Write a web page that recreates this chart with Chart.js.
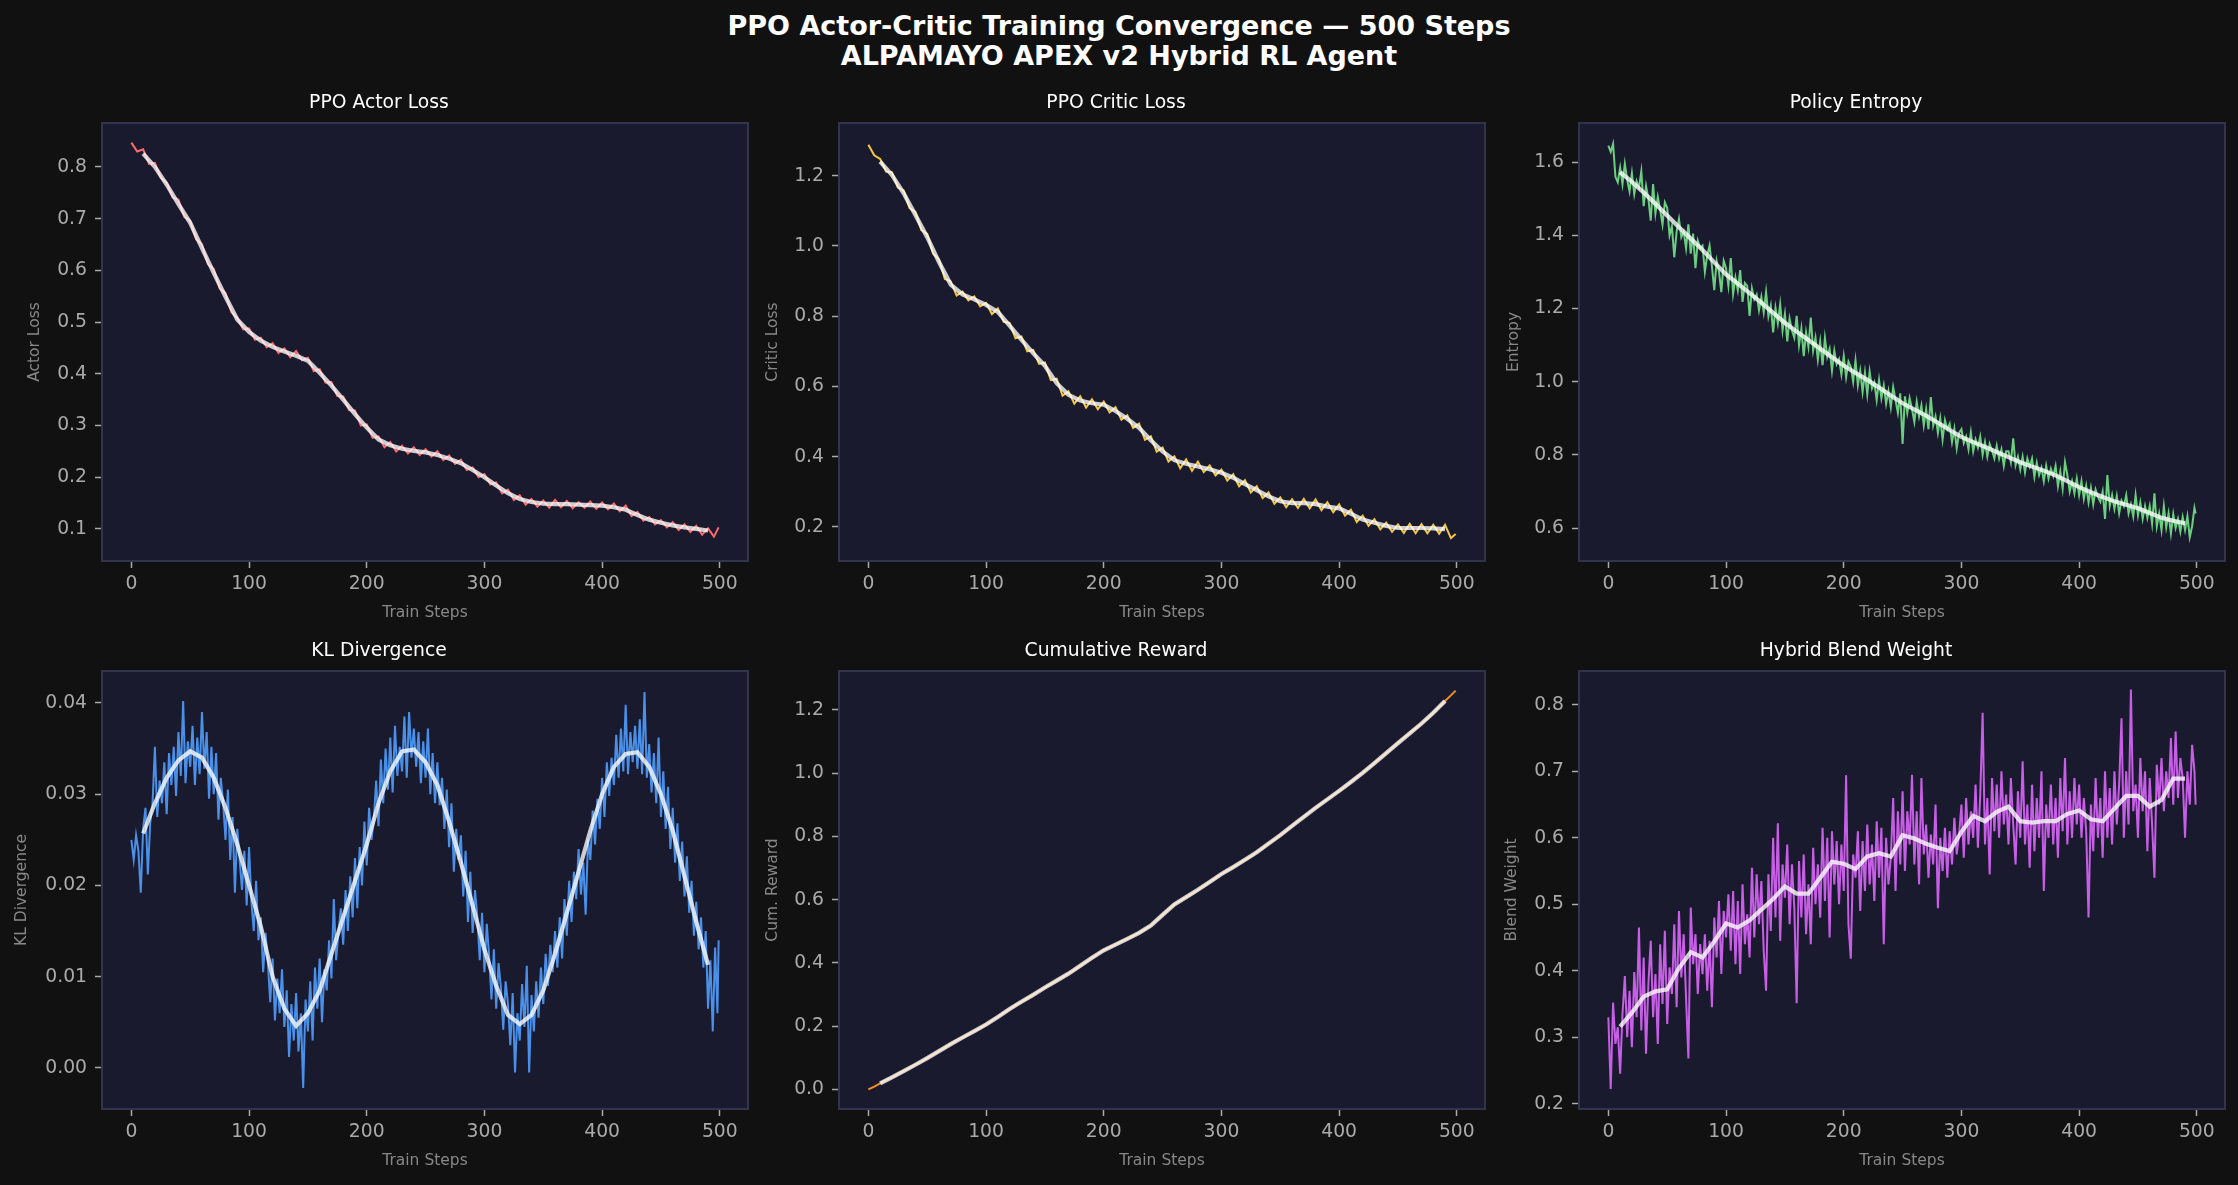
<!DOCTYPE html>
<html>
<head>
<meta charset="utf-8">
<script src="https://cdn.jsdelivr.net/npm/chart.js@4.4.1/dist/chart.umd.min.js"></script>
<style>
  html, body { margin: 0; padding: 0; background: #111111; width: 2238px; height: 1185px; overflow: hidden; }
  #suptitle {
    position: absolute; left: 0; top: 11px; width: 2238px; text-align: center;
    color: #ffffff; font-family: "DejaVu Sans", sans-serif; font-weight: bold;
    font-size: 27px; line-height: 30px;
  }
  canvas { position: absolute; }
</style>
</head>
<body>
<div id="suptitle">PPO Actor-Critic Training Convergence — 500 Steps<br>ALPAMAYO APEX v2 Hybrid RL Agent</div>
<canvas id="p0"></canvas>
<canvas id="p1"></canvas>
<canvas id="p2"></canvas>
<canvas id="p3"></canvas>
<canvas id="p4"></canvas>
<canvas id="p5"></canvas>
<script>
// ---- data ----
// coarse step grid for the low-noise series
const steps = [
  0, 5, 10, 15, 20, 25, 30, 35, 40, 45,
  50, 55, 60, 65, 70, 75, 80, 85, 90, 95,
  100, 105, 110, 115, 120, 125, 130, 135, 140, 145,
  150, 155, 160, 165, 170, 175, 180, 185, 190, 195,
  200, 205, 210, 215, 220, 225, 230, 235, 240, 245,
  250, 255, 260, 265, 270, 275, 280, 285, 290, 295,
  300, 305, 310, 315, 320, 325, 330, 335, 340, 345,
  350, 355, 360, 365, 370, 375, 380, 385, 390, 395,
  400, 405, 410, 415, 420, 425, 430, 435, 440, 445,
  450, 455, 460, 465, 470, 475, 480, 485, 490, 495,
  499,
];
// finer step grid for the noisy series
const stepsFine = [
  0, 2, 4, 6, 8, 10, 12, 14, 16, 18, 20, 22, 24, 26, 28, 30, 32, 34, 36, 38,
  40, 42, 44, 46, 48, 50, 52, 54, 56, 58, 60, 62, 64, 66, 68, 70, 72, 74, 76, 78,
  80, 82, 84, 86, 88, 90, 92, 94, 96, 98, 100, 102, 104, 106, 108, 110, 112, 114, 116, 118,
  120, 122, 124, 126, 128, 130, 132, 134, 136, 138, 140, 142, 144, 146, 148, 150, 152, 154, 156, 158,
  160, 162, 164, 166, 168, 170, 172, 174, 176, 178, 180, 182, 184, 186, 188, 190, 192, 194, 196, 198,
  200, 202, 204, 206, 208, 210, 212, 214, 216, 218, 220, 222, 224, 226, 228, 230, 232, 234, 236, 238,
  240, 242, 244, 246, 248, 250, 252, 254, 256, 258, 260, 262, 264, 266, 268, 270, 272, 274, 276, 278,
  280, 282, 284, 286, 288, 290, 292, 294, 296, 298, 300, 302, 304, 306, 308, 310, 312, 314, 316, 318,
  320, 322, 324, 326, 328, 330, 332, 334, 336, 338, 340, 342, 344, 346, 348, 350, 352, 354, 356, 358,
  360, 362, 364, 366, 368, 370, 372, 374, 376, 378, 380, 382, 384, 386, 388, 390, 392, 394, 396, 398,
  400, 402, 404, 406, 408, 410, 412, 414, 416, 418, 420, 422, 424, 426, 428, 430, 432, 434, 436, 438,
  440, 442, 444, 446, 448, 450, 452, 454, 456, 458, 460, 462, 464, 466, 468, 470, 472, 474, 476, 478,
  480, 482, 484, 486, 488, 490, 492, 494, 496, 498, 499,
];
const smoothSteps = [
  10, 20, 30, 40, 50, 60, 70, 80, 90, 100,
  110, 120, 130, 140, 150, 160, 170, 180, 190, 200,
  210, 220, 230, 240, 250, 260, 270, 280, 290, 300,
  310, 320, 330, 340, 350, 360, 370, 380, 390, 400,
  410, 420, 430, 440, 450, 460, 470, 480, 490,
];

const actorRaw = [
  0.847, 0.830, 0.834, 0.806, 0.808, 0.779, 0.770, 0.741, 0.737, 0.703,
  0.696, 0.660, 0.651, 0.612, 0.603, 0.565, 0.556, 0.519, 0.508, 0.486,
  0.488, 0.466, 0.470, 0.451, 0.459, 0.440, 0.449, 0.432, 0.444, 0.426,
  0.431, 0.405, 0.409, 0.383, 0.384, 0.357, 0.356, 0.330, 0.329, 0.300,
  0.302, 0.276, 0.279, 0.258, 0.268, 0.250, 0.261, 0.246, 0.258, 0.243,
  0.254, 0.240, 0.250, 0.233, 0.242, 0.226, 0.234, 0.214, 0.219, 0.200,
  0.206, 0.186, 0.190, 0.169, 0.176, 0.156, 0.165, 0.147, 0.158, 0.143,
  0.155, 0.141, 0.156, 0.142, 0.154, 0.140, 0.152, 0.141, 0.153, 0.139,
  0.151, 0.138, 0.149, 0.134, 0.145, 0.125, 0.133, 0.116, 0.123, 0.109,
  0.117, 0.103, 0.113, 0.098, 0.109, 0.094, 0.106, 0.089, 0.101, 0.085,
  0.103,
];
const actorSmooth = [
  0.826, 0.800, 0.766, 0.728, 0.692, 0.643, 0.595, 0.549, 0.505, 0.481,
  0.464, 0.452, 0.443, 0.435, 0.425, 0.402, 0.377, 0.350, 0.322, 0.296,
  0.273, 0.262, 0.255, 0.251, 0.248, 0.243, 0.236, 0.227, 0.214, 0.200,
  0.184, 0.169, 0.158, 0.152, 0.149, 0.148, 0.148, 0.147, 0.146, 0.145,
  0.142, 0.137, 0.127, 0.118, 0.112, 0.107, 0.103, 0.100, 0.097,
];

const criticRaw = [
  1.288, 1.258, 1.248, 1.212, 1.210, 1.166, 1.158, 1.108, 1.097, 1.045,
  1.034, 0.978, 0.962, 0.906, 0.899, 0.859, 0.870, 0.845, 0.856, 0.828,
  0.838, 0.806, 0.822, 0.784, 0.781, 0.737, 0.742, 0.700, 0.704, 0.664,
  0.668, 0.618, 0.622, 0.574, 0.586, 0.551, 0.572, 0.540, 0.563, 0.535,
  0.557, 0.526, 0.541, 0.505, 0.518, 0.482, 0.494, 0.448, 0.458, 0.414,
  0.426, 0.386, 0.401, 0.367, 0.392, 0.360, 0.386, 0.356, 0.375, 0.347,
  0.363, 0.332, 0.350, 0.316, 0.333, 0.298, 0.316, 0.282, 0.298, 0.266,
  0.284, 0.256, 0.279, 0.254, 0.280, 0.253, 0.278, 0.248, 0.270, 0.242,
  0.264, 0.232, 0.249, 0.214, 0.232, 0.203, 0.222, 0.193, 0.212, 0.186,
  0.207, 0.183, 0.209, 0.182, 0.208, 0.182, 0.206, 0.181, 0.206, 0.168,
  0.180,
];
const criticSmooth = [
  1.240, 1.202, 1.150, 1.088, 1.025, 0.954, 0.890, 0.862, 0.848, 0.832,
  0.812, 0.773, 0.733, 0.695, 0.659, 0.609, 0.576, 0.560, 0.552, 0.548,
  0.530, 0.508, 0.482, 0.447, 0.415, 0.390, 0.380, 0.372, 0.364, 0.354,
  0.340, 0.322, 0.305, 0.287, 0.273, 0.268, 0.268, 0.265, 0.258, 0.253,
  0.238, 0.221, 0.212, 0.203, 0.197, 0.197, 0.197, 0.196, 0.194,
];

const entropyRaw = [
  1.645, 1.628, 1.650, 1.560, 1.545, 1.585, 1.540, 1.596, 1.552, 1.520,
  1.570, 1.512, 1.548, 1.530, 1.575, 1.480, 1.535, 1.500, 1.440, 1.540,
  1.460, 1.505, 1.470, 1.430, 1.490, 1.475, 1.400, 1.425, 1.340, 1.410,
  1.445, 1.395, 1.410, 1.365, 1.430, 1.350, 1.405, 1.310, 1.385, 1.365,
  1.372, 1.300, 1.345, 1.372, 1.315, 1.250, 1.330, 1.300, 1.245, 1.330,
  1.310, 1.262, 1.338, 1.240, 1.285, 1.250, 1.305, 1.218, 1.270, 1.262,
  1.180, 1.255, 1.225, 1.238, 1.195, 1.232, 1.190, 1.245, 1.178, 1.208,
  1.135, 1.202, 1.160, 1.212, 1.140, 1.185, 1.110, 1.172, 1.140, 1.120,
  1.180, 1.100, 1.145, 1.070, 1.135, 1.095, 1.175, 1.085, 1.120, 1.060,
  1.110, 1.045, 1.120, 1.068, 1.090, 1.030, 1.085, 1.048, 1.062, 1.020,
  1.070, 1.012, 1.055, 1.040, 1.000, 1.058, 0.990, 1.030, 0.972, 1.025,
  0.965, 1.028, 0.982, 0.998, 0.950, 1.005, 0.955, 0.990, 0.940, 0.975,
  0.930, 0.985, 0.950, 0.915, 0.968, 0.830, 0.960, 0.915, 0.955, 0.925,
  0.890, 0.945, 0.905, 0.935, 0.880, 0.925, 0.870, 0.958, 0.880, 0.905,
  0.860, 0.900, 0.842, 0.895, 0.870, 0.885, 0.835, 0.872, 0.818, 0.860,
  0.870, 0.832, 0.850, 0.815, 0.862, 0.810, 0.842, 0.820, 0.850, 0.800,
  0.835, 0.795, 0.830, 0.812, 0.790, 0.825, 0.790, 0.815, 0.770, 0.810,
  0.810, 0.780, 0.845, 0.772, 0.795, 0.760, 0.795, 0.752, 0.790, 0.768,
  0.790, 0.740, 0.778, 0.745, 0.765, 0.728, 0.770, 0.735, 0.762, 0.742,
  0.770, 0.715, 0.755, 0.708, 0.780, 0.745, 0.700, 0.728, 0.695, 0.735,
  0.690, 0.728, 0.680, 0.715, 0.670, 0.710, 0.665, 0.705, 0.685, 0.672,
  0.700, 0.625, 0.745, 0.660, 0.690, 0.652, 0.688, 0.640, 0.675, 0.660,
  0.690, 0.640, 0.665, 0.632, 0.690, 0.635, 0.670, 0.625, 0.660, 0.628,
  0.660, 0.612, 0.695, 0.605, 0.640, 0.595, 0.660, 0.602, 0.640, 0.585,
  0.638, 0.600, 0.625, 0.590, 0.630, 0.595, 0.632, 0.575, 0.605, 0.655,
  0.640,
];
const entropySmooth = [
  1.573, 1.546, 1.517, 1.486, 1.454, 1.422, 1.391, 1.360, 1.326, 1.293,
  1.268, 1.242, 1.216, 1.188, 1.161, 1.137, 1.114, 1.090, 1.067, 1.044,
  1.024, 1.005, 0.984, 0.962, 0.941, 0.924, 0.907, 0.888, 0.868, 0.849,
  0.835, 0.822, 0.808, 0.794, 0.780, 0.768, 0.757, 0.744, 0.728, 0.712,
  0.698, 0.685, 0.673, 0.664, 0.654, 0.641, 0.628, 0.620, 0.613,
];

const klRaw = [
  0.0250, 0.0228, 0.0255, 0.0238, 0.0192, 0.0262, 0.0285, 0.0212, 0.0268, 0.0290,
  0.0352, 0.0275, 0.0315, 0.0290, 0.0335, 0.0278, 0.0345, 0.0310, 0.0352, 0.0298,
  0.0368, 0.0320, 0.0402, 0.0312, 0.0358, 0.0330, 0.0375, 0.0310, 0.0362, 0.0322,
  0.0390, 0.0328, 0.0368, 0.0295, 0.0352, 0.0300, 0.0345, 0.0272, 0.0318, 0.0290,
  0.0250, 0.0305, 0.0228, 0.0275, 0.0192, 0.0262, 0.0228, 0.0195, 0.0238, 0.0178,
  0.0242, 0.0182, 0.0150, 0.0205, 0.0140, 0.0165, 0.0105, 0.0148, 0.0115, 0.0072,
  0.0120, 0.0052, 0.0098, 0.0060, 0.0108, 0.0045, 0.0085, 0.0012, 0.0070, 0.0030,
  0.0082, 0.0018, 0.0060, -0.0022, 0.0075, 0.0040, 0.0095, 0.0030, 0.0110, 0.0065,
  0.0120, 0.0050, 0.0108, 0.0085, 0.0140, 0.0098, 0.0185, 0.0118, 0.0150, 0.0175,
  0.0135, 0.0195, 0.0150, 0.0210, 0.0165, 0.0230, 0.0175, 0.0242, 0.0200, 0.0270,
  0.0222, 0.0285, 0.0250, 0.0272, 0.0315, 0.0265, 0.0338, 0.0290, 0.0350, 0.0305,
  0.0362, 0.0302, 0.0375, 0.0320, 0.0352, 0.0325, 0.0385, 0.0318, 0.0390, 0.0340,
  0.0372, 0.0330, 0.0368, 0.0312, 0.0358, 0.0318, 0.0372, 0.0300, 0.0345, 0.0290,
  0.0335, 0.0288, 0.0318, 0.0262, 0.0305, 0.0242, 0.0290, 0.0215, 0.0262, 0.0228,
  0.0255, 0.0188, 0.0238, 0.0160, 0.0215, 0.0148, 0.0195, 0.0165, 0.0118, 0.0170,
  0.0105, 0.0158, 0.0122, 0.0075, 0.0130, 0.0065, 0.0115, 0.0088, 0.0042, 0.0095,
  0.0070, 0.0025, 0.0082, -0.0005, 0.0060, 0.0030, 0.0092, 0.0045, 0.0112, -0.0005,
  0.0080, 0.0040, 0.0095, 0.0055, 0.0110, 0.0070, 0.0125, 0.0090, 0.0135, 0.0105,
  0.0150, 0.0110, 0.0165, 0.0120, 0.0185, 0.0145, 0.0205, 0.0160, 0.0215, 0.0185,
  0.0240, 0.0190, 0.0225, 0.0168, 0.0250, 0.0228, 0.0282, 0.0245, 0.0295, 0.0262,
  0.0318, 0.0275, 0.0335, 0.0298, 0.0340, 0.0310, 0.0365, 0.0318, 0.0372, 0.0325,
  0.0398, 0.0322, 0.0368, 0.0335, 0.0375, 0.0328, 0.0382, 0.0322, 0.0412, 0.0318,
  0.0355, 0.0302, 0.0345, 0.0290, 0.0362, 0.0275, 0.0325, 0.0262, 0.0308, 0.0240,
  0.0285, 0.0225, 0.0268, 0.0205, 0.0248, 0.0188, 0.0232, 0.0170, 0.0205, 0.0145,
  0.0182, 0.0130, 0.0165, 0.0110, 0.0150, 0.0065, 0.0118, 0.0040, 0.0132, 0.0060,
  0.0140,
];
const klSmooth = [
  0.0257, 0.0290, 0.0318, 0.0337, 0.0347, 0.0340, 0.0318, 0.0285, 0.0245, 0.0200,
  0.0155, 0.0100, 0.0065, 0.0046, 0.0060, 0.0085, 0.0125, 0.0165, 0.0205, 0.0245,
  0.0290, 0.0325, 0.0347, 0.0349, 0.0335, 0.0310, 0.0270, 0.0225, 0.0178, 0.0130,
  0.0090, 0.0058, 0.0048, 0.0058, 0.0085, 0.0125, 0.0170, 0.0215, 0.0260, 0.0300,
  0.0330, 0.0344, 0.0346, 0.0330, 0.0300, 0.0260, 0.0210, 0.0160, 0.0113,
];

const rewardRaw = [
  0.000, 0.009, 0.019, 0.029, 0.038, 0.048, 0.058, 0.068, 0.078, 0.088,
  0.099, 0.110, 0.121, 0.132, 0.143, 0.154, 0.164, 0.174, 0.184, 0.194,
  0.205, 0.217, 0.229, 0.242, 0.254, 0.266, 0.277, 0.288, 0.299, 0.311,
  0.322, 0.333, 0.344, 0.355, 0.366, 0.378, 0.391, 0.403, 0.416, 0.428,
  0.440, 0.449, 0.458, 0.467, 0.476, 0.485, 0.495, 0.506, 0.518, 0.535,
  0.552, 0.569, 0.585, 0.597, 0.608, 0.619, 0.631, 0.643, 0.656, 0.668,
  0.681, 0.692, 0.703, 0.714, 0.726, 0.737, 0.750, 0.763, 0.777, 0.790,
  0.804, 0.818, 0.833, 0.848, 0.862, 0.877, 0.890, 0.904, 0.917, 0.931,
  0.944, 0.958, 0.972, 0.987, 1.001, 1.016, 1.032, 1.048, 1.063, 1.079,
  1.095, 1.111, 1.126, 1.142, 1.157, 1.173, 1.191, 1.209, 1.228, 1.246,
  1.261,
];
const rewardSmooth = [
  0.019, 0.038, 0.058, 0.078, 0.099, 0.121, 0.143, 0.164, 0.184, 0.205,
  0.229, 0.254, 0.277, 0.299, 0.322, 0.344, 0.366, 0.391, 0.416, 0.440,
  0.458, 0.476, 0.495, 0.518, 0.552, 0.585, 0.608, 0.631, 0.656, 0.681,
  0.703, 0.726, 0.750, 0.777, 0.804, 0.833, 0.862, 0.890, 0.917, 0.944,
  0.972, 1.001, 1.032, 1.063, 1.095, 1.126, 1.157, 1.191, 1.228,
];

const blendRaw = [
  0.330, 0.222, 0.352, 0.290, 0.315, 0.245, 0.335, 0.392, 0.300, 0.370,
  0.285, 0.398, 0.330, 0.465, 0.310, 0.420, 0.275, 0.380, 0.445, 0.330,
  0.395, 0.290, 0.440, 0.350, 0.460, 0.320, 0.405, 0.365, 0.470, 0.345,
  0.490, 0.390, 0.455, 0.360, 0.268, 0.495, 0.410, 0.455, 0.365, 0.440,
  0.395, 0.455, 0.370, 0.445, 0.345, 0.480, 0.420, 0.505, 0.395, 0.490,
  0.450, 0.515, 0.430, 0.520, 0.410, 0.505, 0.395, 0.530, 0.440, 0.485,
  0.420, 0.555, 0.450, 0.545, 0.470, 0.535, 0.430, 0.370, 0.545, 0.460,
  0.600, 0.480, 0.622, 0.445, 0.560, 0.510, 0.590, 0.470, 0.560, 0.495,
  0.351, 0.565, 0.480, 0.575, 0.455, 0.530, 0.440, 0.585, 0.500, 0.560,
  0.480, 0.615, 0.505, 0.600, 0.450, 0.610, 0.530, 0.595, 0.500, 0.590,
  0.520, 0.694, 0.470, 0.418, 0.575, 0.540, 0.610, 0.490, 0.595, 0.520,
  0.620, 0.530, 0.590, 0.505, 0.625, 0.540, 0.615, 0.440, 0.600, 0.530,
  0.570, 0.660, 0.520, 0.640, 0.560, 0.670, 0.550, 0.640, 0.590, 0.695,
  0.560, 0.640, 0.530, 0.690, 0.575, 0.620, 0.540, 0.605, 0.560, 0.650,
  0.494, 0.600, 0.550, 0.615, 0.540, 0.610, 0.560, 0.630, 0.575, 0.605,
  0.650, 0.570, 0.660, 0.590, 0.640, 0.600, 0.680, 0.585, 0.665, 0.788,
  0.590, 0.660, 0.545, 0.690, 0.610, 0.680, 0.600, 0.700, 0.620, 0.665,
  0.590, 0.690, 0.620, 0.560, 0.670, 0.600, 0.715, 0.590, 0.650, 0.555,
  0.680, 0.580, 0.660, 0.600, 0.700, 0.520, 0.650, 0.600, 0.680, 0.590,
  0.660, 0.570, 0.690, 0.610, 0.720, 0.590, 0.670, 0.600, 0.690, 0.620,
  0.680, 0.600, 0.660, 0.610, 0.480, 0.650, 0.580, 0.690, 0.600, 0.660,
  0.570, 0.700, 0.600, 0.675, 0.590, 0.700, 0.620, 0.680, 0.780, 0.600,
  0.700, 0.620, 0.823, 0.640, 0.680, 0.600, 0.720, 0.640, 0.700, 0.580,
  0.690, 0.620, 0.540, 0.710, 0.650, 0.720, 0.640, 0.700, 0.660, 0.750,
  0.650, 0.760, 0.660, 0.720, 0.690, 0.600, 0.700, 0.650, 0.740, 0.700,
  0.650,
];
const blendSmooth = [
  0.316, 0.337, 0.361, 0.369, 0.372, 0.404, 0.428, 0.420, 0.444, 0.471,
  0.465, 0.476, 0.492, 0.508, 0.527, 0.516, 0.516, 0.540, 0.564, 0.561,
  0.553, 0.572, 0.577, 0.572, 0.604, 0.599, 0.591, 0.585, 0.580, 0.609,
  0.633, 0.625, 0.639, 0.647, 0.625, 0.623, 0.625, 0.625, 0.636, 0.641,
  0.628, 0.625, 0.644, 0.663, 0.663, 0.647, 0.657, 0.689, 0.689,
];

const xTickLabels = ["0", "100", "200", "300", "400", "500"];
const actorTicks = ["0.1", "0.2", "0.3", "0.4", "0.5", "0.6", "0.7", "0.8"];
const criticTicks = ["0.2", "0.4", "0.6", "0.8", "1.0", "1.2"];
const entropyTicks = ["0.6", "0.8", "1.0", "1.2", "1.4", "1.6"];
const klTicks = ["0.00", "0.01", "0.02", "0.03", "0.04"];
const rewardTicks = ["0.0", "0.2", "0.4", "0.6", "0.8", "1.0", "1.2"];
const blendTicks = ["0.2", "0.3", "0.4", "0.5", "0.6", "0.7", "0.8"];

// ---- layout ----
const FONT = '"DejaVu Sans", sans-serif';
const Y_AXIS_W = 92, TITLE_H = 31, X_AXIS_H = 66, RIGHT_PAD = 4;
const PLOT_W = 646, PLOT_H = 438;
const colLeft = [102, 839, 1579];
const rowTop = [123, 671];

Chart.defaults.font.family = FONT;
Chart.defaults.animation = false;
Chart.defaults.plugins.legend.display = false;
Chart.defaults.plugins.tooltip.enabled = false;

const panels = [
  { title: "PPO Actor Loss", ylabel: "Actor Loss", color: "#ff6b6b", x: steps, raw: actorRaw, smooth: actorSmooth,
    ticks: actorTicks, yMin: 0.038, yMax: 0.885, labelOff: 67 },
  { title: "PPO Critic Loss", ylabel: "Critic Loss", color: "#f5c842", x: steps, raw: criticRaw, smooth: criticSmooth,
    ticks: criticTicks, yMin: 0.103, yMax: 1.35, labelOff: 66 },
  { title: "Policy Entropy", ylabel: "Entropy", color: "#6bcf7f", x: stepsFine, raw: entropyRaw, smooth: entropySmooth,
    ticks: entropyTicks, yMin: 0.51, yMax: 1.707, labelOff: 65 },
  { title: "KL Divergence", ylabel: "KL Divergence", color: "#4a90e8", x: stepsFine, raw: klRaw, smooth: klSmooth,
    ticks: klTicks, yMin: -0.0045, yMax: 0.0435, labelOff: 80 },
  { title: "Cumulative Reward", ylabel: "Cum. Reward", color: "#f0901e", x: steps, raw: rewardRaw, smooth: rewardSmooth,
    ticks: rewardTicks, yMin: -0.062, yMax: 1.323, labelOff: 66 },
  { title: "Hybrid Blend Weight", ylabel: "Blend Weight", color: "#c75ee6", x: stepsFine, raw: blendRaw, smooth: blendSmooth,
    ticks: blendTicks, yMin: 0.192, yMax: 0.851, labelOff: 67 },
];

// axes background + four-sided frame like matplotlib spines
const axesFrame = {
  id: "axesFrame",
  beforeDraw(chart) {
    const a = chart.chartArea, ctx = chart.ctx;
    ctx.save();
    ctx.fillStyle = "#1a1a2e";
    ctx.fillRect(a.left, a.top, a.right - a.left, a.bottom - a.top);
    ctx.restore();
  },
  afterDraw(chart) {
    const a = chart.chartArea, ctx = chart.ctx;
    ctx.save();
    ctx.strokeStyle = "#33334d";
    ctx.lineWidth = 2;
    ctx.strokeRect(a.left, a.top, a.right - a.left, a.bottom - a.top);
    ctx.restore();
  },
};

function tickAxis(labels) {
  return (scale) => { scale.ticks = labels.map((l) => ({ value: Number(l) })); };
}

panels.forEach((p, i) => {
  const col = i % 3, row = Math.floor(i / 3);
  const cv = document.getElementById("p" + i);
  cv.width = Y_AXIS_W + PLOT_W + RIGHT_PAD;
  cv.height = TITLE_H + PLOT_H + X_AXIS_H;
  cv.style.left = (colLeft[col] - Y_AXIS_W) + "px";
  cv.style.top = (rowTop[row] - TITLE_H) + "px";

  new Chart(cv.getContext("2d"), {
    type: "line",
    data: {
      datasets: [
        {
          data: smoothSteps.map((s, k) => ({ x: s, y: p.smooth[k] })),
          borderColor: "rgba(255,255,255,0.78)", borderWidth: 4.2,
          pointRadius: 0, tension: 0, order: 0,
        },
        {
          data: p.x.map((s, k) => ({ x: s, y: p.raw[k] })),
          borderColor: p.color, borderWidth: 2,
          pointRadius: 0, tension: 0, order: 1,
        },
      ],
    },
    plugins: [axesFrame],
    options: {
      responsive: false,
      devicePixelRatio: 1,
      layout: { padding: { top: 0, left: 0, bottom: 0, right: RIGHT_PAD } },
      plugins: {
        title: {
          display: true, text: p.title, color: "#ffffff",
          font: { family: FONT, size: 18.75, weight: "normal" },
          padding: { top: 0, bottom: 8.5 },
        },
      },
      scales: {
        x: {
          type: "linear", min: -24.95, max: 523.95,
          afterBuildTicks: tickAxis(xTickLabels),
          afterFit: (s) => { s.height = X_AXIS_H; },
          grid: { display: true, drawOnChartArea: false, drawTicks: true, tickLength: 7, tickColor: "#aaaaaa", tickWidth: 1.5 },
          border: { display: false },
          ticks: { color: "#aaaaaa", font: { size: 18.75 }, padding: 5, maxRotation: 0,
                   callback: (v, k) => xTickLabels[k] },
          title: { display: true, text: "Train Steps", color: "#888888",
                   font: { size: 15.5 }, padding: { top: 0, bottom: 5 } },
        },
        y: {
          type: "linear", min: p.yMin, max: p.yMax,
          afterBuildTicks: tickAxis(p.ticks),
          afterFit: (s) => { s.width = Y_AXIS_W; },
          grid: { display: true, drawOnChartArea: false, drawTicks: true, tickLength: 7, tickColor: "#aaaaaa", tickWidth: 1.5 },
          border: { display: false },
          ticks: { color: "#aaaaaa", font: { size: 18.75 }, padding: 8,
                   callback: (v, k) => p.ticks[k] },
          title: { display: true, text: p.ylabel, color: "#888888",
                   font: { size: 15.5 }, padding: { top: Y_AXIS_W - p.labelOff - 9.3, bottom: 0 } },
        },
      },
    },
  });
});
</script>
</body>
</html>
